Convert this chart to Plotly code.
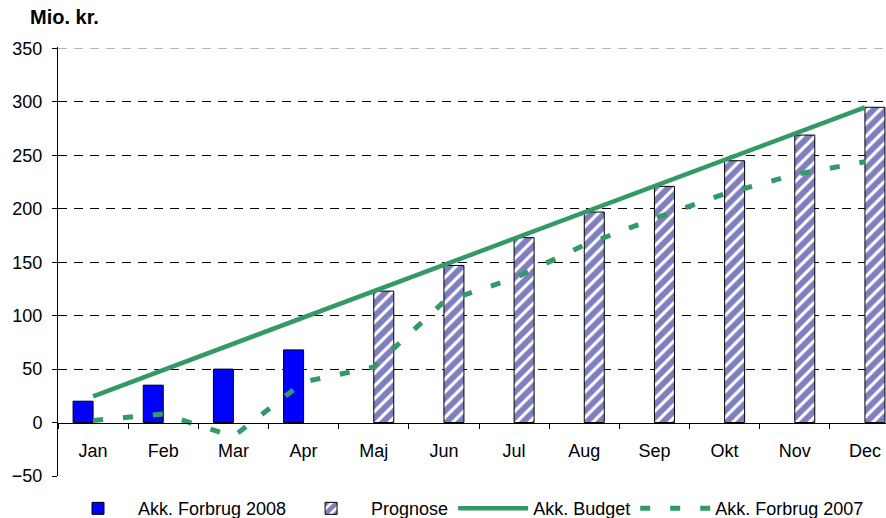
import plotly.graph_objects as go

months = ["Jan", "Feb", "Mar", "Apr", "Maj", "Jun", "Jul", "Aug", "Sep", "Okt", "Nov", "Dec"]
forbrug_2008 = [20, 35, 50, 68, None, None, None, None, None, None, None, None]
prognose = [None, None, None, None, 123, 147, 173, 197, 221, 245, 269, 295]
budget = [24.6, 49.2, 73.8, 98.3, 122.9, 147.5, 172.1, 196.7, 221.3, 245.8, 270.4, 295]
forbrug_2007 = [2, 8, -13, 38, 52, 113, 135, 166, 191, 214, 232, 244]
y_ticks = [-50, 0, 50, 100, 150, 200, 250, 300, 350]
grid_vals = [50, 100, 150, 200, 250, 300]
top_grid = [350]

FONT = "Liberation Sans, Arial, sans-serif"
GREEN = "#339966"
Y_RANGE = [-50, 351.4]

fig = go.Figure()
fig.add_trace(go.Bar(
    x=months, y=forbrug_2008, name="Akk. Forbrug 2008",
    marker=dict(color="#0000FF", line=dict(color="black", width=1)),
))
fig.add_trace(go.Bar(
    x=months, y=prognose, name="Prognose",
    marker=dict(color="white", line=dict(color="black", width=1),
                pattern=dict(shape="/", fgcolor="#000080", bgcolor="white",
                             size=9, solidity=0.65)),
))
fig.add_trace(go.Scatter(
    x=months, y=budget, name="Akk. Budget", mode="lines", yaxis="y2",
    line=dict(color=GREEN, width=4.5),
))
fig.add_trace(go.Scatter(
    x=months, y=forbrug_2007, name="Akk. Forbrug 2007", mode="lines", yaxis="y2",
    line=dict(color=GREEN, width=5, dash="10px,20px"),
))

fig.update_layout(
    width=886, height=518,
    margin=dict(l=58, r=0, t=46.5, b=42, autoexpand=False),
    paper_bgcolor="white", plot_bgcolor="white",
    font=dict(family=FONT, size=18, color="black"),
    barmode="group", bargap=0.43, bargroupgap=0,
    showlegend=True,
    legend=dict(orientation="h", x=0.0, xanchor="left", y=-0.033, yanchor="top",
                font=dict(family=FONT, size=18, color="black"),
                itemwidth=70, bgcolor="rgba(0,0,0,0)", traceorder="normal"),
    xaxis=dict(
        type="category", categoryorder="array", categoryarray=months,
        range=[-0.5, 11.3], anchor="free", position=50 / 401.4,
        showline=True, linecolor="black", linewidth=1,
        ticks="outside", ticklen=5, tickcolor="black", tickson="boundaries",
        ticklabelstandoff=12, showgrid=False, zeroline=False,
        tickfont=dict(family=FONT, size=18, color="black"),
    ),
    yaxis=dict(
        range=Y_RANGE, tickvals=y_ticks,
        showline=True, linecolor="black", linewidth=1,
        ticks="outside", ticklen=5, tickcolor="black",
        ticklabelstandoff=6, showgrid=False, zeroline=False,
        tickfont=dict(family=FONT, size=18, color="black"),
    ),
    yaxis2=dict(
        overlaying="y", range=Y_RANGE, tickvals=grid_vals,
        showgrid=True, gridcolor="black", gridwidth=1, griddash="9px,7px",
        showticklabels=False, ticks="", showline=False, zeroline=False,
        minor=dict(tickvals=top_grid, showgrid=True, gridcolor="#b4b4b4",
                   gridwidth=1, griddash="9px,7px", ticks=""),
    ),
    annotations=[dict(
        text="<b>Mio. kr.</b>", xref="paper", yref="paper",
        x=-0.036, y=1.069, xanchor="left", yanchor="middle", showarrow=False,
        font=dict(family=FONT, size=20, color="black"),
    )],
)

fig.write_html("out.html", config={"displayModeBar": False},
               post_script="document.body.style.margin='0';document.body.style.overflow='hidden';")
